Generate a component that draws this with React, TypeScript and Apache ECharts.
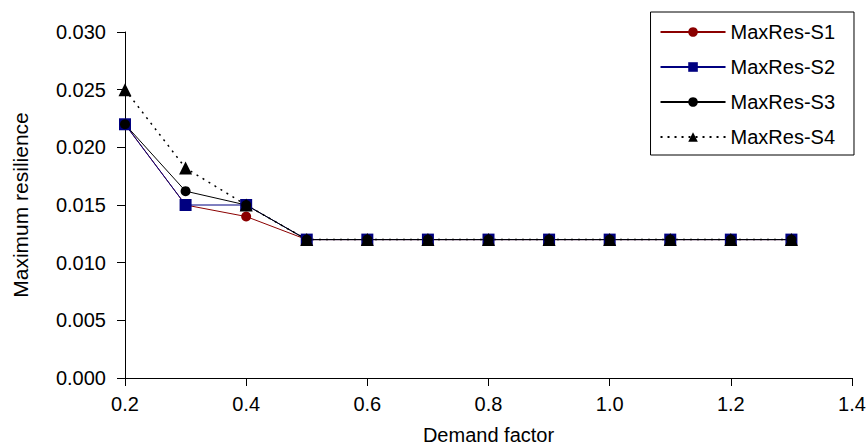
import React, { useEffect, useRef } from "react";
import * as echarts from "echarts";

const demandFactor = [0.2, 0.3, 0.4, 0.5, 0.6, 0.7, 0.8, 0.9, 1.0, 1.1, 1.2, 1.3];
const s1 = [0.022, 0.015, 0.014, 0.012, 0.012, 0.012, 0.012, 0.012, 0.012, 0.012, 0.012, 0.012];
const s2 = [0.022, 0.015, 0.015, 0.012, 0.012, 0.012, 0.012, 0.012, 0.012, 0.012, 0.012, 0.012];
const s3 = [0.022, 0.0162, 0.015, 0.012, 0.012, 0.012, 0.012, 0.012, 0.012, 0.012, 0.012, 0.012];
const s4 = [0.025, 0.0182, 0.015, 0.012, 0.012, 0.012, 0.012, 0.012, 0.012, 0.012, 0.012, 0.012];
const seriesNames = ["MaxRes-S1", "MaxRes-S2", "MaxRes-S3", "MaxRes-S4"];

const pair = (ys: number[]) => demandFactor.map((x, i) => [x, ys[i]]);

export default function App() {
  const ref = useRef<HTMLDivElement>(null);
  useEffect(() => {
    const chart = echarts.init(ref.current!, null, { renderer: "svg" });
    const font = "'Liberation Sans', Arial, sans-serif";
    chart.setOption({
      animation: false,
      textStyle: { fontFamily: font },
      grid: { left: 125, right: 15, top: 32, bottom: 70, outerBoundsMode: "none", containLabel: false },
      legend: {
        orient: "vertical",
        right: 13,
        top: 12,
        padding: [10, 19, 8, 9],
        itemGap: 15,
        itemWidth: 65,
        itemHeight: 12,
        borderColor: "#000",
        borderWidth: 1,
        borderRadius: 0,
        textStyle: { fontSize: 20, color: "#000", fontFamily: font, padding: [0, 0, 0, 0] },
        data: seriesNames,
      },
      xAxis: {
        type: "value",
        min: 0.2,
        max: 1.4,
        interval: 0.2,
        name: "Demand factor",
        nameLocation: "middle",
        nameGap: 47,
        nameTextStyle: { fontSize: 20, color: "#000", fontFamily: font },
        axisLine: { onZero: false, lineStyle: { color: "#000", width: 1 } },
        axisTick: { show: true, inside: false, length: 8, lineStyle: { color: "#000" } },
        axisLabel: { fontSize: 20, color: "#000", margin: 16, formatter: (v: number) => v.toFixed(1) },
        splitLine: { show: false },
      },
      yAxis: {
        type: "value",
        min: 0,
        max: 0.03,
        interval: 0.005,
        name: "Maximum resilience",
        nameLocation: "middle",
        nameGap: 94,
        nameTextStyle: { fontSize: 21, color: "#000", fontFamily: font },
        axisLine: { show: true, lineStyle: { color: "#000", width: 1 } },
        axisTick: { show: true, inside: false, length: 8, lineStyle: { color: "#000" } },
        axisLabel: { fontSize: 20, color: "#000", margin: 19, formatter: (v: number) => v.toFixed(3) },
        splitLine: { show: false },
      },
      series: [
        {
          name: seriesNames[0],
          type: "line",
          data: pair(s1),
          symbol: "circle",
          symbolSize: 10,
          color: "#8b0000",
          lineStyle: { color: "#8b0000", width: 1 },
          itemStyle: { color: "#8b0000" },
        },
        {
          name: seriesNames[1],
          type: "line",
          data: pair(s2),
          symbol: "rect",
          symbolSize: 12,
          color: "#000080",
          lineStyle: { color: "#000080", width: 1 },
          itemStyle: { color: "#000080" },
        },
        {
          name: seriesNames[2],
          type: "line",
          data: pair(s3),
          symbol: "circle",
          symbolSize: 10,
          color: "#000",
          lineStyle: { color: "#000", width: 1 },
          itemStyle: { color: "#000" },
        },
        {
          name: seriesNames[3],
          type: "line",
          data: pair(s4),
          symbol: "triangle",
          symbolSize: 13,
          color: "#000",
          lineStyle: { color: "#000", width: 1.5, type: [2, 5] },
          itemStyle: { color: "#000" },
        },
      ],
    });
    return () => chart.dispose();
  }, []);
  return <div ref={ref} style={{ width: 867, height: 448, position: "absolute", left: 0, top: 0 }} />;
}
